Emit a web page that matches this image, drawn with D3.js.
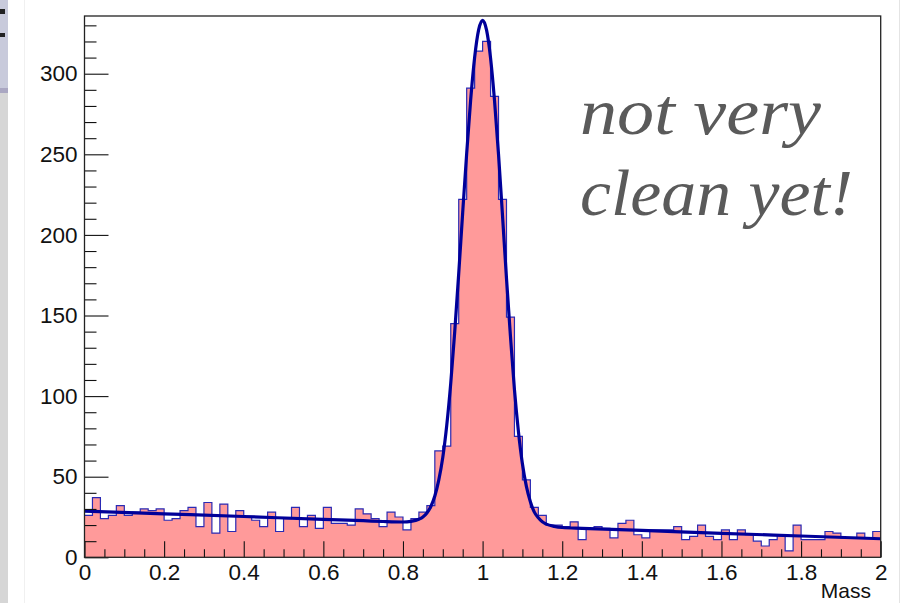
<!DOCTYPE html>
<html><head><meta charset="utf-8">
<script src="https://cdn.jsdelivr.net/npm/d3@7"></script>
<style>
html,body{margin:0;padding:0;background:#fff;}
svg{display:block;}
</style></head><body>
<svg id="c" width="906" height="603"></svg>
<script>
// ---- data ----
const histRange = [0, 2];
const counts = [26,37,24,26,32,26,28,30,29,30,
  23,24,29,31,19,34,15,33,16,29,
  25,23,19,28,16,24,31,19,26,18,
  31,21,21,20,30,27,24,19,28,25,
  17,24,28,32,66,69,145,222,291,314,
  320,286,222,149,75,48,31,26,20,20,
  19,22,11,18,19,18,12,21,23,14,
  12,17,17,17,19,11,13,20,13,11,
  17,11,17,14,10,7,11,14,4,20,
  11,11,11,16,15,12,12,15,12,16];
const fitX = [0.00,0.20,0.40,0.60,0.70,0.75,0.80,0.82,0.84,0.85,0.86,0.87,0.88,0.89,0.90,0.91,0.92,0.93,0.94,0.95,0.96,0.97,0.98,0.99,1.00,
  1.01,1.02,1.03,1.04,1.05,1.06,1.07,1.08,1.09,1.10,1.11,1.12,1.13,1.14,1.15,1.16,1.18,1.20,1.25,1.40,1.60,1.80,2.00];
const fitY = [28.7,27.0,25.3,23.5,22.7,22.2,21.9,22.3,23.6,25.0,27.5,31.5,38.0,48.0,62.0,82.0,108.0,140.0,176.0,214.0,250.5,283.7,310.1,327.2,333.1,
  327.0,309.7,283.1,249.9,212.0,173.0,137.0,104.0,78.0,58.0,44.0,34.5,28.0,24.5,22.0,20.6,19.2,18.5,18.0,16.7,14.9,13.2,11.5];
const yMajorTicks = [0,50,100,150,200,250,300];
const xMajorTicks = [0,0.2,0.4,0.6,0.8,1.0,1.2,1.4,1.6,1.8,2.0];
const xTickLabels = ["0","0.2","0.4","0.6","0.8","1","1.2","1.4","1.6","1.8","2"];
const xTitle = "Mass";
const noteLines = ["not very", "clean yet!"];

// ---- layout ----
const frame = {left:84.5, right:880.7, top:16, bottom:557.3};
const yMax = 335.8;
const svg = d3.select("#c");

// screenshot edge decorations
svg.append("rect").attr("x",0).attr("y",0).attr("width",8).attr("height",603).attr("fill","#d6d6d6");
svg.append("rect").attr("x",0).attr("y",0).attr("width",8).attr("height",92).attr("fill","#c8cadb");
svg.append("rect").attr("x",0).attr("y",88).attr("width",8).attr("height",5).attr("fill","#aaa7c2");
svg.append("rect").attr("x",0).attr("y",9).attr("width",5).attr("height",5).attr("fill","#222");
svg.append("rect").attr("x",0).attr("y",33).attr("width",5).attr("height",4).attr("fill","#222");
svg.append("line").attr("x1",24.5).attr("x2",24.5).attr("y1",0).attr("y2",603).attr("stroke","#f0f0f0");
svg.append("line").attr("x1",899.5).attr("x2",899.5).attr("y1",0).attr("y2",603).attr("stroke","#e4e4e4");

const x = d3.scaleLinear().domain(histRange).range([frame.left, frame.right]);
const y = d3.scaleLinear().domain([0, yMax]).range([frame.bottom, frame.top]);

const nb = counts.length;
const bw = (histRange[1]-histRange[0])/nb;
const steps = counts.map((c,i)=>({lo: histRange[0]+i*bw, v:c}));
steps.push({lo: histRange[1], v: counts[nb-1]});

// histogram fill
svg.append("path")
  .attr("d", d3.area().curve(d3.curveStepAfter).x(d=>x(d.lo)).y0(y(0)).y1(d=>y(d.v))(steps))
  .attr("fill","#ff9a9a");
// histogram outline
svg.append("path")
  .attr("d", d3.line().curve(d3.curveStepAfter).x(d=>x(d.lo)).y(d=>y(d.v))(steps))
  .attr("fill","none").attr("stroke","#2a2ab4").attr("stroke-width",1.2);

// fit curve
const fitPts = fitX.map((v,i)=>[v, fitY[i]]);
svg.append("path")
  .attr("d", d3.line().curve(d3.curveMonotoneX).x(d=>x(d[0])).y(d=>y(d[1]))(fitPts))
  .attr("fill","none").attr("stroke","#000099").attr("stroke-width",3.2)
  .attr("stroke-linejoin","round");

// axes
const font = "'Liberation Sans', Arial, Helvetica, sans-serif";
const yMinor = d3.range(0, 331, 10).filter(v => v % 50 !== 0);
const xMinor = d3.range(0, 41).map(i => i*0.05).filter((v,i) => i % 4 !== 0);

function styleAxis(g){
  g.select(".domain").remove();
  g.selectAll(".tick line").attr("stroke","#111").attr("stroke-width",1.1);
  g.selectAll(".tick text").attr("fill","#111").style("font-family",font).style("font-size","22.5px");
}
svg.append("g").attr("transform",`translate(${frame.left},0)`)
  .call(d3.axisLeft(y).tickValues(yMinor).tickSize(-12).tickFormat(""))
  .call(styleAxis);
svg.append("g").attr("transform",`translate(${frame.left},0)`)
  .call(d3.axisLeft(y).tickValues(yMajorTicks).tickSize(-24).tickPadding(7).tickFormat(d3.format("d")))
  .call(styleAxis);
svg.append("g").attr("transform",`translate(0,${frame.bottom})`)
  .call(d3.axisBottom(x).tickValues(xMinor).tickSize(-8).tickFormat(""))
  .call(styleAxis);
svg.append("g").attr("transform",`translate(0,${frame.bottom})`)
  .call(d3.axisBottom(x).tickValues(xMajorTicks).tickSize(-16).tickPadding(7).tickFormat((d,i)=>xTickLabels[i]))
  .call(styleAxis);

// frame
svg.append("rect").attr("x",frame.left).attr("y",frame.top)
  .attr("width",frame.right-frame.left).attr("height",frame.bottom-frame.top)
  .attr("fill","none").attr("stroke","#222").attr("stroke-width",1.3);

// axis title
svg.append("text").attr("x",871).attr("y",598).attr("text-anchor","end")
  .style("font-family",font).style("font-size","21px").attr("fill","#111").text(xTitle);

// note
const noteY = [134, 215], noteW = [241, 273];
noteLines.forEach((t,i)=>{
  svg.append("text").attr("x",580).attr("y",noteY[i])
    .attr("textLength",noteW[i]).attr("lengthAdjust","spacingAndGlyphs")
    .style("font-family","'Liberation Serif', 'Times New Roman', serif").style("font-style","italic")
    .style("font-size","66px").attr("fill","#5a5a5a").text(t);
});
</script>
</body></html>
